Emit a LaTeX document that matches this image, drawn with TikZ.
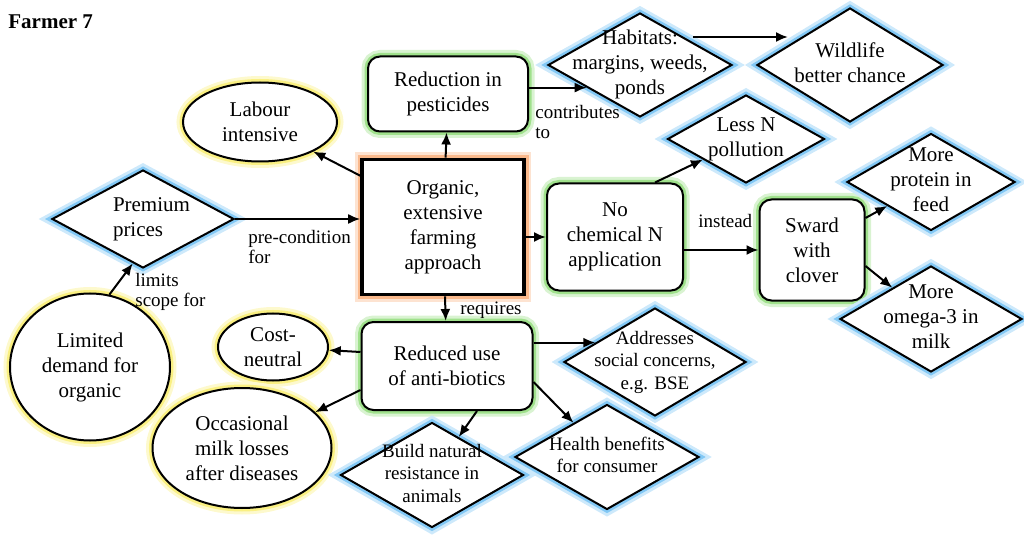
\documentclass[tikz,border=0pt]{standalone}
\usepackage{fontspec}
\setmainfont{Liberation Serif}
\usetikzlibrary{shapes.geometric,arrows.meta}

\definecolor{glowblue}{RGB}{130,200,245}
\definecolor{glowyellow}{RGB}{250,240,130}
\definecolor{glowgreen}{RGB}{160,225,140}
\definecolor{gloworange}{RGB}{250,185,140}

% text of a diamond, kept out of the shape size
\newcommand{\dtext}[1]{\makebox[0pt]{\begin{tabular}{@{}c@{}}#1\end{tabular}}}

\begin{document}
\begin{tikzpicture}[x=0.5pt, y=-0.5pt]
	\tikzstyle{every node} = [font=\fontsize{10.5}{12.5}\selectfont]
	\tikzstyle{bglow} = [preaction={draw=glowblue!40, line width=6.5pt}, preaction={draw=glowblue, line width=3.5pt}]
	\tikzstyle{yglow} = [preaction={draw=glowyellow!40, line width=6.5pt}, preaction={draw=glowyellow, line width=3.5pt}]
	\tikzstyle{gglow} = [preaction={draw=glowgreen!40, line width=6.5pt}, preaction={draw=glowgreen, line width=3.5pt}]
	\tikzstyle{oglow} = [preaction={draw=gloworange!40, line width=7pt}, preaction={draw=gloworange, line width=4.5pt}]
	\tikzstyle{rbox} = [rectangle, rounded corners=6pt, draw=black, line width=1pt, fill=white, align=center, inner sep=0pt, gglow]
	\tikzstyle{oval} = [ellipse, draw=black, line width=1pt, fill=white, align=center, inner sep=0pt, yglow]
	\tikzstyle{diam} = [diamond, draw=black, line width=1pt, fill=white, inner sep=0pt, bglow]
	\tikzstyle{small} = [font=\fontsize{9.5}{11.25}\selectfont]
	\tikzstyle{elabel} = [font=\fontsize{9.5}{10}\selectfont, align=left, inner sep=0pt]
	\tikzstyle{edge} = [-{Latex[length=6pt, width=5pt]}, line width=1pt]
	\useasboundingbox (0,0) rectangle (1024,535);
	\node[anchor=base west, inner sep=0pt, font=\fontsize{10.5}{12.5}\selectfont\bfseries](title) at (8,29){Farmer 7};
	\node[rectangle, draw=black, line width=1.8pt, fill=white, align=center, minimum width=81pt, minimum height=67.5pt, oglow](organic) at (443,227){Organic,\\extensive\\farming\\approach};
	\node[rbox, minimum width=80pt, minimum height=37.5pt](reduction) at (448,94){Reduction in\\pesticides};
	\node[oval, minimum width=77pt, minimum height=39.5pt](labour) at (260,122){Labour\\intensive};
	\node[diam, minimum width=91pt, minimum height=49pt](premium) at (143,219){\makebox[0pt]{\hspace{8.5pt}\begin{tabular}{@{}l@{}}Premium\\prices\end{tabular}}};
	\node[oval, minimum width=80pt, minimum height=73.5pt](limited) at (90,367){Limited\\demand for\\organic};
	\node[diam, minimum width=92pt, minimum height=52pt](habitats) at (640,65){\dtext{Habitats:\\margins, weeds,\\ponds}};
	\node[diam, minimum width=93pt, minimum height=57pt](wildlife) at (850,65){\dtext{Wildlife\\better chance}};
	\node[diam, minimum width=78.5pt, minimum height=44pt](lessn) at (746,139){\dtext{Less N\\pollution}};
	\node[rbox, minimum width=68pt, minimum height=53.5pt](nochem) at (615,237){No\\chemical N\\application};
	\node[rbox, minimum width=52.5pt, minimum height=50.5pt](sward) at (812,250){Sward\\with\\clover};
	\node[diam, minimum width=84pt, minimum height=48.5pt](protein) at (931,182){\dtext{More\\protein in\\feed}};
	\node[diam, minimum width=91pt, minimum height=53pt](omega) at (931,319){\dtext{More\\omega-3 in\\milk}};
	\node[rbox, minimum width=85.5pt, minimum height=44pt](reduced) at (447,366){Reduced use\\of anti-biotics};
	\node[oval, minimum width=55pt, minimum height=33.5pt](cost) at (273,347){Cost-\\neutral};
	\node[oval, minimum width=89.5pt, minimum height=60pt](occasional) at (242,448){Occasional\\milk losses\\after diseases};
	\node[diam, small, minimum width=91pt, minimum height=54pt](addresses) at (655,362){\dtext{Addresses\\social concerns,\\e.g. BSE}};
	\node[diam, small, minimum width=91.5pt, minimum height=52.5pt](build) at (432,475){\dtext{Build natural\\resistance in\\animals}};
	\node[diam, small, minimum width=92pt, minimum height=52.5pt](health) at (607,457){\dtext{Health benefits\\for consumer}};
	\draw[edge](premium.east) -- (organic.west |- premium.east);
	\draw[edge](limited.75) -- (premium.257);
	\draw[edge]([yshift=-9pt]organic.north west) -- (labour.331);
	\draw[edge](organic) -- (reduction);
	\draw[edge](reduction.east |- habitats.203) -- (habitats.203);
	\draw[edge]([xshift=-20pt, yshift=14pt]habitats.east) -- ([xshift=16pt, yshift=14pt]wildlife.west);
	\draw[edge]([xshift=20pt]nochem.north) -- (lessn);
	\draw[edge](organic.east |- nochem.west) -- (nochem.west);
	\draw[edge](nochem.east |- sward.west) -- (sward.west);
	\draw[edge]([yshift=16pt]sward.east) -- (protein);
	\draw[edge]([yshift=-8pt]sward.east) -- (omega);
	\draw[edge](organic) -- (reduced);
	\draw[edge]([yshift=7pt]reduced.west) -- (cost);
	\draw[edge]([yshift=-12pt]reduced.west) -- (occasional);
	\draw[edge](reduced.east |- addresses.162) -- (addresses.162);
	\draw[edge]([xshift=15pt]reduced.south) -- (build);
	\draw[edge]([yshift=-8pt]reduced.east) -- (health);
	\node[elabel, anchor=north west](lcontrib) at (535,105){contributes\\to};
	\node[elabel, anchor=north west](lprecond) at (248,230){pre-condition\\for};
	\node[elabel, anchor=north west](llimits) at (135,273){limits\\scope for};
	\node[elabel, anchor=north west](lrequires) at (460,302){requires};
	\node[elabel, anchor=south west](linstead) at (698,228){instead};
\end{tikzpicture}
\end{document}
